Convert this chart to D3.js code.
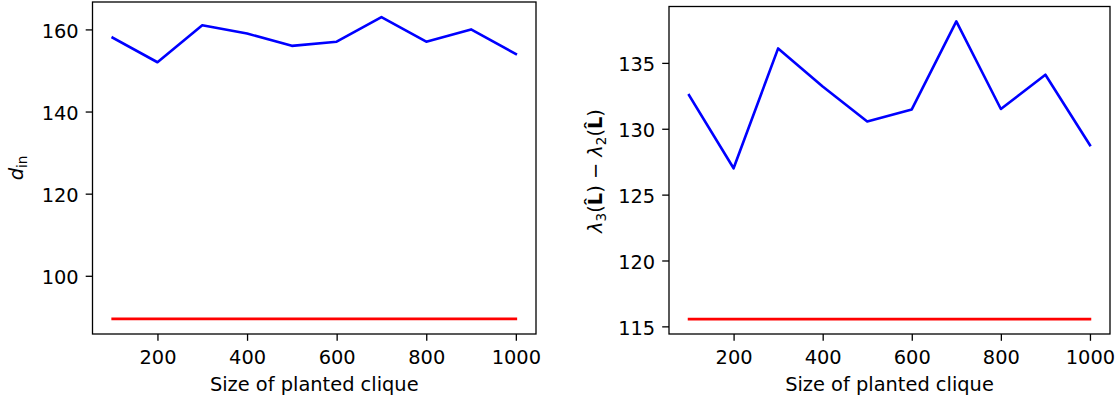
<!DOCTYPE html>
<html>
<head>
<meta charset="utf-8">
<script src="https://cdn.jsdelivr.net/npm/d3@7"></script>
<style>
  html, body { margin: 0; padding: 0; background: #fff; }
  svg { display: block; }
  text { font-family: "DejaVu Sans", sans-serif; fill: #000; }
</style>
</head>
<body>
<svg id="chart" width="1116" height="400"></svg>
<script>
// ---- data ----
const cliqueSizes = [100, 200, 300, 400, 500, 600, 700, 800, 900, 1000];
const dIn = [158, 152, 161, 159, 156, 157, 163, 157, 160, 154];
const dInThreshold = [89.5, 89.5, 89.5, 89.5, 89.5, 89.5, 89.5, 89.5, 89.5, 89.5];
const eigenGap = [132.55, 127.0, 136.1, 133.2, 130.55, 131.47, 138.15, 131.5, 134.1, 128.75];
const eigenGapThreshold = [115.55, 115.55, 115.55, 115.55, 115.55, 115.55, 115.55, 115.55, 115.55, 115.55];
const xTicks = [200, 400, 600, 800, 1000];
const leftYTicks = [100, 120, 140, 160];
const rightYTicks = [115, 120, 125, 130, 135];
const xLabel = "Size of planted clique";

const svg = d3.select("#chart");
const FS = 19.4;
const TICK = 6.8;

function padDomain(arrs) {
  const all = arrs.flat();
  const lo = d3.min(all), hi = d3.max(all);
  const m = (hi - lo) * 0.05;
  return [lo - m, hi + m];
}

function panel(box, series, yTicks) {
  const g = svg.append("g");
  const xs = d3.scaleLinear().domain(padDomain([cliqueSizes])).range([box.x0, box.x1]);
  const ys = d3.scaleLinear().domain(padDomain(series.map(s => s.values))).range([box.y1, box.y0]);

  // lines
  const line = d3.line().x((d, i) => xs(cliqueSizes[i])).y(d => ys(d));
  series.forEach(s => {
    g.append("path").datum(s.values)
      .attr("d", line).attr("fill", "none")
      .attr("stroke", s.color).attr("stroke-width", 2.6)
      .attr("stroke-linejoin", "round").attr("stroke-linecap", "square");
  });

  // axes
  const xa = g.append("g").attr("transform", `translate(0,${box.y1})`)
    .call(d3.axisBottom(xs).tickValues(xTicks).tickFormat(d3.format("d")).tickSize(TICK).tickPadding(9.4).tickSizeOuter(0));
  const ya = g.append("g").attr("transform", `translate(${box.x0},0)`)
    .call(d3.axisLeft(ys).tickValues(yTicks).tickFormat(d3.format("d")).tickSize(TICK).tickPadding(7).tickSizeOuter(0));
  ya.selectAll("text").attr("dy", "0.4em");
  [xa, ya].forEach(a => {
    a.select(".domain").remove();
    a.selectAll("line").attr("stroke", "#000").attr("stroke-width", 1.3);
    a.selectAll("text").attr("font-size", FS).attr("font-family", "DejaVu Sans").attr("fill", "#000");
  });

  // frame
  g.append("rect").attr("x", box.x0).attr("y", box.y0)
    .attr("width", box.x1 - box.x0).attr("height", box.y1 - box.y0)
    .attr("fill", "none").attr("stroke", "#000").attr("stroke-width", 1.3);

  // x label
  g.append("text").attr("x", (box.x0 + box.x1) / 2).attr("y", 390.5)
    .attr("text-anchor", "middle").attr("font-size", FS).text(xLabel);
  return g;
}

const left = panel({x0: 92.5, x1: 536, y0: 2, y1: 334},
  [{values: dIn, color: "#0000ff"}, {values: dInThreshold, color: "#ff0000"}], leftYTicks);
const right = panel({x0: 669, x1: 1110, y0: 6.5, y1: 334},
  [{values: eigenGap, color: "#0000ff"}, {values: eigenGapThreshold, color: "#ff0000"}], rightYTicks);

// left y label: d_in
const ly = svg.append("text").attr("transform", "translate(23,168) rotate(-90)")
  .attr("text-anchor", "middle").attr("font-size", FS);
ly.append("tspan").attr("font-style", "italic").text("d");
ly.append("tspan").attr("font-size", FS * 0.7).attr("dy", 4).text("in");

// right y label: λ3(L̂) − λ2(L̂)
const ry = svg.append("text").attr("transform", "translate(602,171) rotate(-90)")
  .attr("text-anchor", "middle").attr("font-size", FS);
function lam(sub) {
  ry.append("tspan").attr("font-style", "italic").text("λ");
  ry.append("tspan").attr("font-size", FS * 0.7).attr("dy", 4).text(sub);
  ry.append("tspan").attr("dy", -4).text("(");
  ry.append("tspan").attr("font-weight", "bold").text("L\u0302");
  ry.append("tspan").text(")");
}
lam("3");
ry.append("tspan").text(" \u2212 ");
lam("2");
</script>
</body>
</html>
